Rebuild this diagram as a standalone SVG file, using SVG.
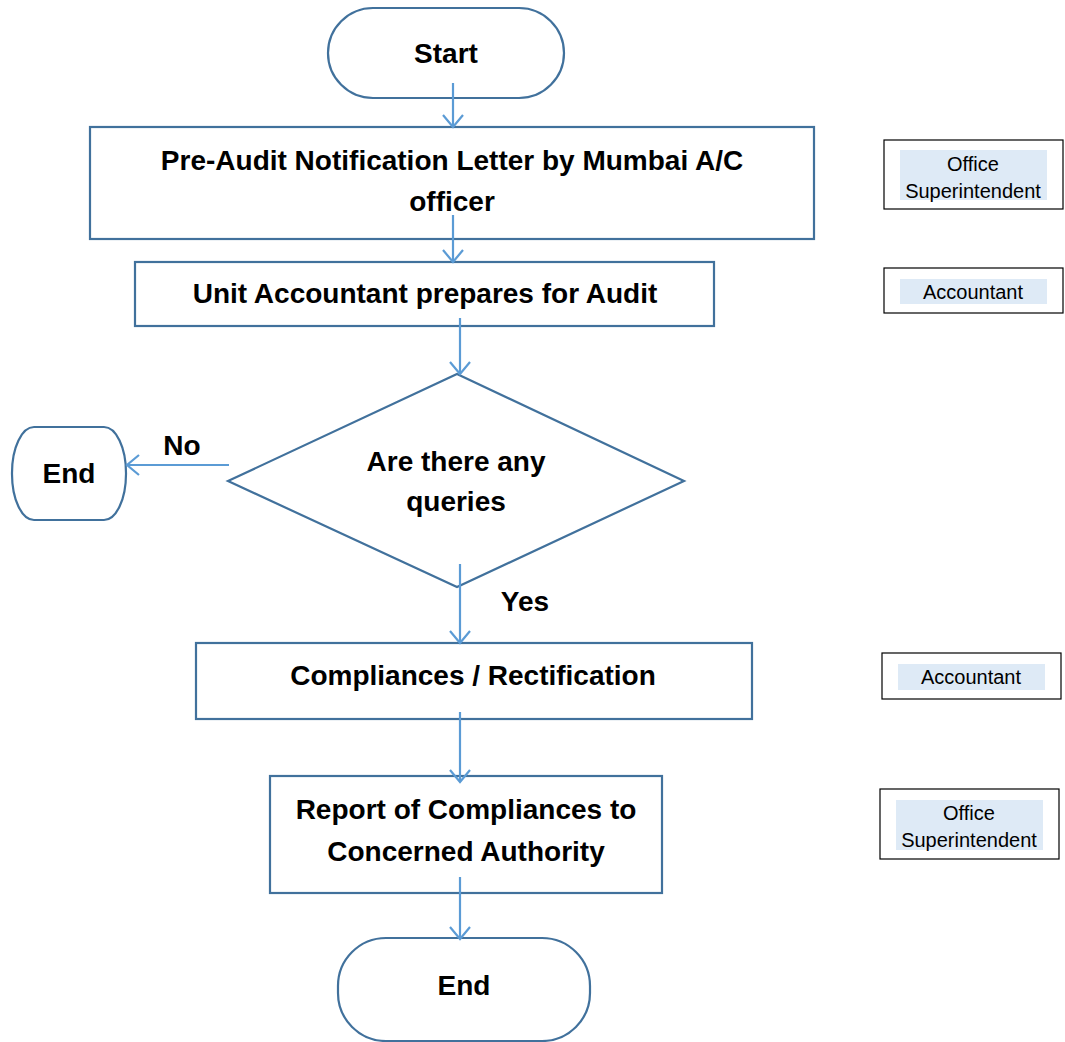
<svg xmlns="http://www.w3.org/2000/svg" width="1065" height="1042" viewBox="0 0 1065 1042">
  <defs>
    <style>
      .node { fill: #ffffff; stroke: #41719C; stroke-width: 2.2; }
      .conn { fill: none; stroke: #5B9BD5; stroke-width: 2.2; }
      .lbl { font-family: "Liberation Sans", Arial, sans-serif; font-weight: bold; font-size: 28px; fill: #000; text-anchor: middle; }
      .role { fill: #ffffff; stroke: #000; stroke-width: 1.2; }
      .roleFill { fill: #DEEAF6; }
      .roleTxt { font-family: "Liberation Sans", Arial, sans-serif; font-size: 20px; fill: #000; text-anchor: middle; }
    </style>
    <marker id="arrow" markerWidth="24" markerHeight="24" refX="13" refY="11" orient="auto" markerUnits="userSpaceOnUse">
      <path d="M1,1 L13,11 L1,21" fill="none" stroke="#5B9BD5" stroke-width="2.2"/>
    </marker>
  </defs>

  <rect width="1065" height="1042" fill="#ffffff"/>

  <!-- flow nodes -->
  <g id="start">
    <rect class="node" x="328" y="8" width="236" height="90" rx="45" ry="45"/>
    <text class="lbl" x="446" y="63">Start</text>
  </g>

  <g id="notification">
    <rect class="node" x="90" y="127" width="724" height="112"/>
    <text class="lbl" x="452" y="170">Pre-Audit Notification Letter by Mumbai A/C</text>
    <text class="lbl" x="452" y="211">officer</text>
  </g>

  <g id="prepare">
    <rect class="node" x="135" y="262" width="579" height="64"/>
    <text class="lbl" x="425" y="303">Unit Accountant prepares for Audit</text>
  </g>

  <g id="queries">
    <polygon class="node" points="457,374 684,481 457,587 228,481"/>
    <text class="lbl" x="456" y="471">Are there any</text>
    <text class="lbl" x="456" y="511">queries</text>
  </g>

  <g id="end-no">
    <rect class="node" x="12" y="427" width="114" height="93" rx="22" ry="46"/>
    <text class="lbl" x="69" y="483">End</text>
  </g>

  <g id="compliances">
    <rect class="node" x="196" y="643" width="556" height="76"/>
    <text class="lbl" x="473" y="685">Compliances / Rectification</text>
  </g>

  <g id="report">
    <rect class="node" x="270" y="776" width="392" height="117"/>
    <text class="lbl" x="466" y="819">Report of Compliances to</text>
    <text class="lbl" x="466" y="861">Concerned Authority</text>
  </g>

  <g id="end">
    <rect class="node" x="338" y="938" width="252" height="103" rx="48" ry="48"/>
    <text class="lbl" x="464" y="995">End</text>
  </g>

  <!-- responsible roles -->
  <g id="role-os-1">
    <rect class="role" x="884" y="140" width="179" height="69"/>
    <rect class="roleFill" x="900" y="150" width="147" height="50"/>
    <text class="roleTxt" x="973" y="171">Office</text>
    <text class="roleTxt" x="973" y="198">Superintendent</text>
  </g>

  <g id="role-acc-1">
    <rect class="role" x="884" y="268" width="179" height="45"/>
    <rect class="roleFill" x="900" y="279" width="147" height="25"/>
    <text class="roleTxt" x="973" y="299">Accountant</text>
  </g>

  <g id="role-acc-2">
    <rect class="role" x="882" y="653" width="179" height="46"/>
    <rect class="roleFill" x="898" y="664" width="147" height="26"/>
    <text class="roleTxt" x="971" y="684">Accountant</text>
  </g>

  <g id="role-os-2">
    <rect class="role" x="880" y="789" width="179" height="70"/>
    <rect class="roleFill" x="896" y="800" width="147" height="50"/>
    <text class="roleTxt" x="969" y="820">Office</text>
    <text class="roleTxt" x="969" y="847">Superintendent</text>
  </g>

  <!-- connectors -->
  <g id="connectors">
    <line class="conn" x1="453" y1="83" x2="453" y2="127" marker-end="url(#arrow)"/>
    <line class="conn" x1="453" y1="215" x2="453" y2="262" marker-end="url(#arrow)"/>
    <line class="conn" x1="460" y1="318" x2="460" y2="374" marker-end="url(#arrow)"/>
    <line class="conn" x1="229" y1="465" x2="127" y2="465" marker-end="url(#arrow)"/>
    <line class="conn" x1="460" y1="564" x2="460" y2="643" marker-end="url(#arrow)"/>
    <line class="conn" x1="460" y1="712" x2="460" y2="782" marker-end="url(#arrow)"/>
    <line class="conn" x1="460" y1="877" x2="460" y2="939" marker-end="url(#arrow)"/>
    <text class="lbl" x="182" y="455">No</text>
    <text class="lbl" x="525" y="611">Yes</text>
  </g>
</svg>
